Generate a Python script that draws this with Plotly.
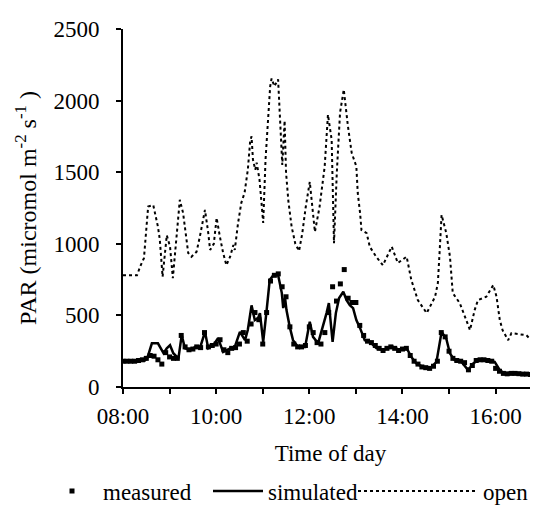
import plotly.graph_objects as go

# ---------------- data ----------------
open_t = [8.00, 8.30, 8.38, 8.45, 8.54, 8.65, 8.75, 8.79, 8.82, 8.85, 8.94, 9.01, 9.07, 9.13,
          9.22, 9.29, 9.33, 9.40, 9.47, 9.58, 9.65, 9.76, 9.83, 9.87, 9.95, 10.01, 10.08, 10.15,
          10.22, 10.30, 10.37, 10.40, 10.47, 10.54, 10.61, 10.68, 10.73, 10.76, 10.79, 10.84,
          10.87, 10.93, 10.97, 11.01, 11.06, 11.10, 11.16, 11.19, 11.25, 11.33, 11.36, 11.42,
          11.47, 11.50, 11.55, 11.62, 11.70, 11.78, 11.85, 11.92, 12.01, 12.07, 12.12, 12.22,
          12.33, 12.40, 12.48, 12.53, 12.59, 12.66, 12.74, 12.83, 12.91, 13.01, 13.04, 13.09,
          13.12, 13.23, 13.30, 13.44, 13.58, 13.77, 13.90, 14.09, 14.19, 14.33, 14.52, 14.70,
          14.76, 14.80, 14.84, 14.94, 15.02, 15.08, 15.23, 15.37, 15.45, 15.55, 15.62, 15.80,
          15.95, 16.02, 16.09, 16.15, 16.27, 16.34, 16.66, 16.80, 16.91]
open_v = [780, 780, 850, 900, 1260, 1270, 1120, 1030, 900, 770, 1060, 980, 760, 1000,
          1307, 1216, 1097, 936, 910, 945, 1050, 1237, 1076, 957, 1000, 1181, 1050, 936,
          850, 910, 992, 957, 1144, 1286, 1356, 1517, 1716, 1750, 1588, 1517,
          1567, 1450, 1300, 1146, 1588, 1820, 2100, 2154, 2100, 2148, 1950, 1550,
          1860, 1500, 1300, 1120, 1000, 950, 1075, 1250, 1433, 1250, 1083, 1258,
          1539, 1902, 1727, 1004, 1495, 1916, 2077, 1819, 1635, 1540, 1355, 1215,
          1096, 1075, 978, 908, 850, 980, 866, 910, 747, 607, 516, 630,
          726, 957, 1202, 1076, 910, 656, 586, 467, 397, 537, 607, 630,
          712, 630, 467, 397, 327, 376, 362, 315, 350]

sim_t = [8.00, 8.47, 8.52, 8.62, 8.75, 8.87, 8.94, 9.01, 9.08, 9.19, 9.26, 9.33, 9.44, 9.55,
         9.65, 9.76, 9.83, 9.94, 10.04, 10.15, 10.30, 10.40, 10.51, 10.62, 10.68, 10.76,
         10.83, 10.90, 10.94, 11.01, 11.08, 11.15, 11.23, 11.33, 11.41, 11.44, 11.48, 11.51,
         11.58, 11.65, 11.76, 11.91, 12.01, 12.08, 12.19, 12.26, 12.37, 12.42, 12.50, 12.57,
         12.64, 12.73, 12.80, 12.87, 12.94, 13.01, 13.09, 13.19, 13.30, 13.44, 13.59, 13.66,
         13.80, 13.94, 14.09, 14.19, 14.30, 14.44, 14.59, 14.73, 14.84, 14.94, 15.02, 15.12,
         15.27, 15.41, 15.52, 15.62, 15.80, 15.98, 16.09, 16.20, 16.52, 16.91]
sim_v = [180, 185, 200, 305, 305, 236, 270, 292, 236, 200, 362, 270, 257, 280,
         270, 385, 270, 292, 341, 245, 270, 280, 385, 327, 400, 570,
         467, 480, 516, 315, 525, 747, 782, 782, 656, 551, 621, 537,
         420, 327, 280, 280, 455, 350, 306, 385, 516, 586, 315, 516,
         621, 665, 607, 572, 551, 467, 411, 327, 315, 271, 257, 271,
         280, 257, 271, 210, 164, 140, 129, 175, 385, 339, 234, 187,
         175, 117, 164, 187, 187, 175, 117, 94, 94, 82]

# measured: every 5 minutes from 08:00
meas_t = [8 + k / 12 for k in range(108)]
meas_v = [180, 180, 180, 180, 185, 190, 200, 220, 215, 190, 160, 240,
          210, 200, 200, 360, 280, 260, 265, 280, 275, 380, 280, 290,
          300, 330, 260, 240, 270, 275, 300, 380, 320, 440, 520, 470,
          300, 520, 740, 780, 790, 700, 630, 420, 300, 280, 280, 290,
          420, 380, 310, 300, 380, 520, 700, 600, 720, 820, 620, 590,
          590, 430, 360, 320, 310, 290, 270, 255, 270, 280, 270, 255,
          265, 270, 220, 180, 160, 140, 135, 130, 145, 180, 380, 350,
          250, 200, 185, 180, 170, 120, 150, 185, 190, 190, 185, 180,
          130, 110, 95, 92, 95, 95, 93, 90, 90, 88, 85, 85]

x_tickvals = [8, 10, 12, 14, 16]
x_ticktext = ["08:00", "10:00", "12:00", "14:00", "16:00"]
y_tickvals = [0, 500, 1000, 1500, 2000, 2500]

# ---------------- figure ----------------
serif = "Liberation Serif"
fig = go.Figure()
fig.add_trace(go.Scatter(
    x=meas_t, y=meas_v, mode="markers", name="measured", legend="legend",
    marker=dict(symbol="square", size=5, color="black"),
))
fig.add_trace(go.Scatter(
    x=sim_t, y=sim_v, mode="lines", name="simulated", legend="legend2",
    line=dict(color="black", width=2.5),
))
fig.add_trace(go.Scatter(
    x=open_t, y=open_v, mode="lines", name="open", legend="legend3",
    line=dict(color="black", width=2, dash="dot"),
))

# the page body has an 8px default margin, so the figure is 8px smaller
W, H = 530, 517
L, T, B = 115, 21, 138


def leg(px_left, iw):
    return dict(orientation="h", x=(px_left - 8) / W, xanchor="left",
                y=34 / H, yanchor="middle", xref="container", yref="container",
                font=dict(family=serif, size=23), itemwidth=iw,
                bgcolor="rgba(0,0,0,0)")


fig.update_layout(
    width=W, height=H,
    margin=dict(l=L, r=0, t=T, b=B, autoexpand=False),
    paper_bgcolor="white", plot_bgcolor="white",
    font=dict(family=serif, size=23, color="black"),
    showlegend=True,
    legend=leg(41, 52),
    legend2=leg(208, 50),
    legend3=leg(353, 120),
    xaxis=dict(
        range=[8, 16.91], tickmode="array", tickvals=x_tickvals, ticktext=x_ticktext,
        automargin=True,
        showgrid=False, zeroline=False, showline=True, linecolor="black", linewidth=2,
        ticks="outside", ticklen=5, tickwidth=2, tickcolor="black",
        ticklabelstandoff=2,
        minor=dict(tickmode="linear", tick0=8, dtick=1, ticks="outside",
                   ticklen=5, tickwidth=2, tickcolor="black", showgrid=False),
        title=dict(text="Time of day", standoff=17, font=dict(family=serif, size=23)),
    ),
    yaxis=dict(
        range=[0, 2500], tickmode="array", tickvals=y_tickvals,
        automargin=True,
        showgrid=False, zeroline=False, showline=True, linecolor="black", linewidth=2,
        ticks="outside", ticklen=5, tickwidth=2, tickcolor="black",
        ticklabelstandoff=12,
        title=dict(text="PAR (micromol m<sup>-2</sup> s<sup>-1</sup> )", standoff=10,
                   font=dict(family=serif, size=24)),
    ),
)

fig.write_html("out.html")
